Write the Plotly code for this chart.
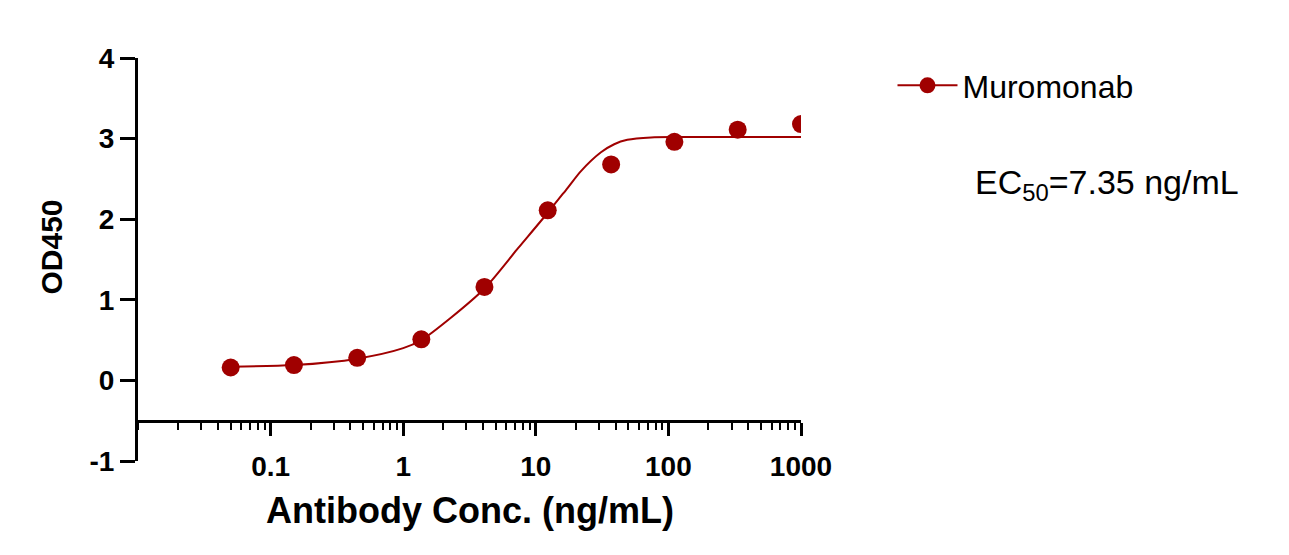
import plotly.graph_objects as go

# ---- data ----
conc = [0.05, 0.15, 0.45, 1.37, 4.1, 12.3, 37, 111, 333, 1000]
od450 = [0.16, 0.19, 0.28, 0.51, 1.16, 2.11, 2.68, 2.96, 3.11, 3.18]

# fitted curve
fit_conc = [0.05, 0.15, 0.45, 1.0, 1.37, 2.3, 4.1, 7.35, 12.3, 17.4, 22, 31, 39, 49, 74, 120, 1000]
fit_od = [0.17, 0.19, 0.27, 0.40, 0.50, 0.78, 1.14, 1.64, 2.08, 2.39, 2.60, 2.83, 2.93, 2.985, 3.015, 3.02, 3.02]

series_name = "Muromonab"
ec50_label = "EC<sub>50</sub>=7.35 ng/mL"
x_title = "Antibody Conc. (ng/mL)"
y_title = "OD450"
x_tickvals = [0.1, 1, 10, 100, 1000]
x_ticktext = ["0.1", "1", "10", "100", "1000"]
y_tickvals = [-1, 0, 1, 2, 3, 4]
y_ticktext = ["-1", "0", "1", "2", "3", "4"]

RED = "#A00000"
FONT = "Arial, 'Liberation Sans', sans-serif"

fig = go.Figure()
fig.add_trace(go.Scatter(x=fit_conc, y=fit_od, mode="lines",
                         line=dict(color=RED, width=2, shape="spline", smoothing=0.8),
                         showlegend=False, hoverinfo="skip"))
fig.add_trace(go.Scatter(x=conc, y=od450, mode="markers",
                         marker=dict(color=RED, size=18),
                         showlegend=False))
fig.add_trace(go.Scatter(x=[None], y=[None], mode="lines+markers", name=series_name,
                         line=dict(color=RED, width=2),
                         marker=dict(color=RED, size=16)))

fig.update_layout(
    width=1289, height=555,
    margin=dict(l=130, r=496, t=50, b=102),
    plot_bgcolor="white", paper_bgcolor="white",
    font=dict(family=FONT, color="black"),
    legend=dict(x=1.138, y=1.0, xanchor="left", yanchor="top",
                font=dict(family=FONT, size=32, color="black"),
                bgcolor="rgba(0,0,0,0)", itemwidth=60),
)

fig.update_xaxes(
    type="log", range=[-2, 3],
    anchor="free", position=0.1,
    showline=True, linecolor="black", linewidth=3,
    showgrid=False, zeroline=False,
    tickvals=x_tickvals, ticktext=x_ticktext,
    ticks="outside", ticklen=13, tickwidth=3, tickcolor="black",
    ticklabelstandoff=7,
    tickfont=dict(family=FONT, size=28, color="black", weight="bold"),
    minor=dict(ticks="outside", ticklen=7, tickwidth=2, tickcolor="black", dtick="D1", showgrid=False),
)
fig.update_yaxes(
    range=[-1, 4], tickvals=y_tickvals, ticktext=y_ticktext,
    showline=True, linecolor="black", linewidth=3,
    showgrid=False, zeroline=False,
    ticks="outside", ticklen=15, tickwidth=3, tickcolor="black",
    tickfont=dict(family=FONT, size=28, color="black", weight="bold"),
)

fig.add_annotation(text=f"<b>{x_title}</b>", xref="paper", yref="paper",
                   x=0.5, y=-0.122, xanchor="center", yanchor="middle", showarrow=False,
                   font=dict(family=FONT, size=36, color="black"))
fig.add_annotation(text=f"<b>{y_title}</b>", xref="paper", yref="paper",
                   x=-0.131, y=0.53, xanchor="center", yanchor="middle", textangle=-90,
                   showarrow=False, font=dict(family=FONT, size=30, color="black"))
fig.add_annotation(text=ec50_label, xref="paper", yref="paper",
                   x=1.26, y=0.685, xanchor="left", yanchor="middle", showarrow=False,
                   font=dict(family=FONT, size=34, color="black"))

fig.write_html("out.html")
